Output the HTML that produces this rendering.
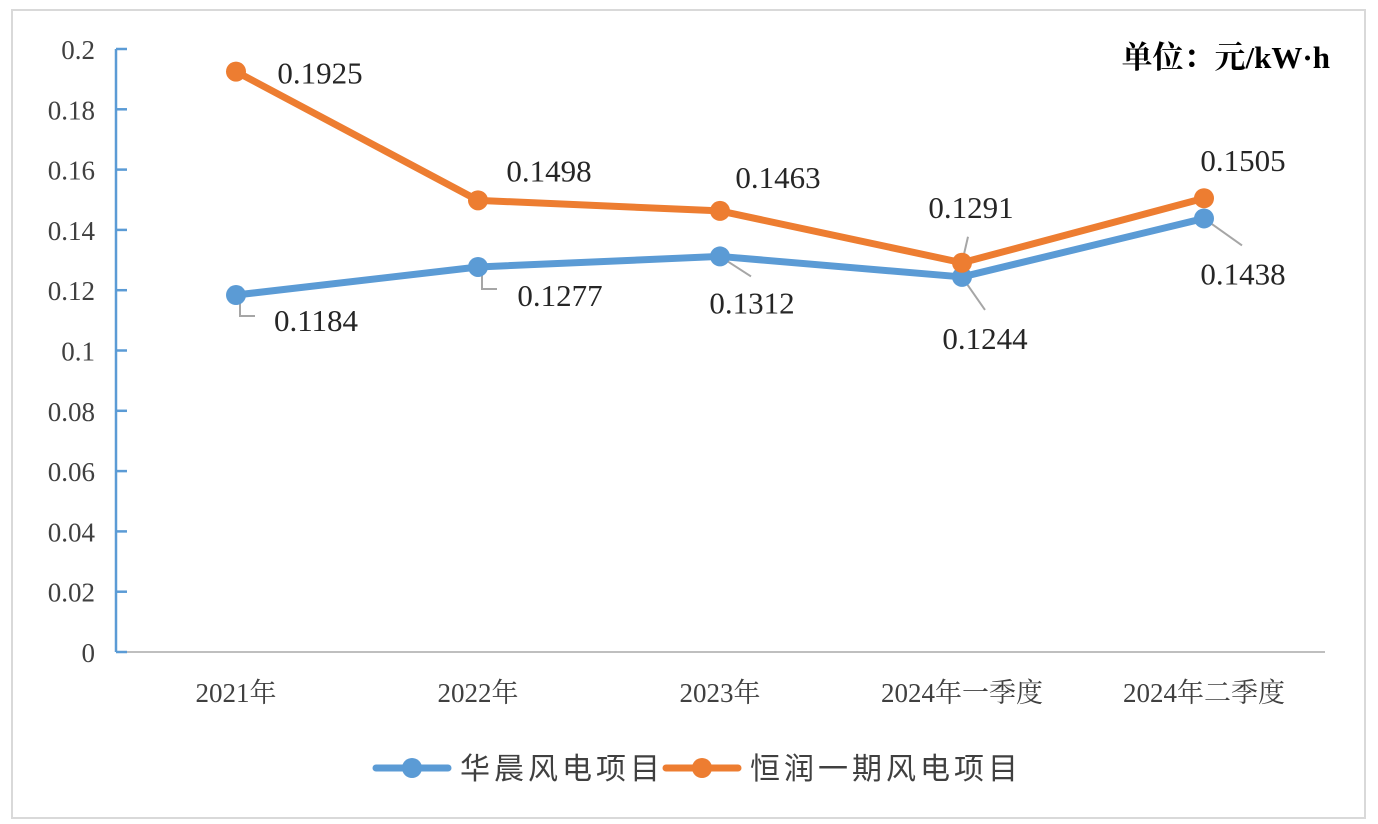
<!DOCTYPE html>
<html><head><meta charset="utf-8"><style>
body{margin:0;background:#fff;}
svg{display:block;font-family:"Liberation Serif","Noto Serif CJK SC",serif;}
</style></head><body>
<svg width="1378" height="824">
<rect x="12" y="10" width="1353" height="808" fill="#fff" stroke="#d9d9d9" stroke-width="2"/>
<text x="1330" y="68" font-size="31" font-weight="bold" text-anchor="end" fill="#000">单位：元/kW·h</text>
<g id="axes"></g><g id="series"></g>
<g>
<g>
<line x1="376" y1="768" x2="448" y2="768" stroke="#5B9BD5" stroke-width="7" stroke-linecap="round"/>
<circle cx="412" cy="768" r="10" fill="#5B9BD5"/>
<text x="460" y="779" font-size="30" fill="#404040" font-family="'Noto Sans CJK SC',sans-serif" letter-spacing="4">华晨风电项目</text></g>
<g>
<line x1="666" y1="768" x2="738" y2="768" stroke="#ED7D31" stroke-width="7" stroke-linecap="round"/>
<circle cx="702" cy="768" r="10" fill="#ED7D31"/>
<text x="750" y="779" font-size="30" fill="#404040" font-family="'Noto Sans CJK SC',sans-serif" letter-spacing="4">恒润一期风电项目</text></g>
</g>
</svg>
<script>
const categories=["2021年","2022年","2023年","2024年一季度","2024年二季度"];
const huachen=[0.1184,0.1277,0.1312,0.1244,0.1438];
const hengrun=[0.1925,0.1498,0.1463,0.1291,0.1505];
const yTicks=[0,0.02,0.04,0.06,0.08,0.1,0.12,0.14,0.16,0.18,0.2];
const yTickLabels=["0","0.02","0.04","0.06","0.08","0.1","0.12","0.14","0.16","0.18","0.2"];
const NS="http://www.w3.org/2000/svg";
const y=v=>652-v/0.2*603;
const x=i=>236+i*242;
function mk(t,a,p){const e=document.createElementNS(NS,t);for(const k in a)e.setAttribute(k,a[k]);p.appendChild(e);return e;}
const axes=document.getElementById('axes');
const ya=mk('line',{x1:116,y1:49,x2:116,y2:652,stroke:'#5B9BD5','stroke-width':2.5},axes);


const xa=mk('line',{x1:116,y1:652,x2:1325,y2:652,stroke:'#bfbfbf','stroke-width':2},axes);


yTicks.forEach((v,i)=>{
 const tk=mk('line',{x1:116,y1:y(v),x2:127,y2:y(v),stroke:'#5B9BD5','stroke-width':2.5},axes);
 
 
 const t=mk('text',{x:95,y:y(v)+10,'font-size':27,'text-anchor':'end',fill:'#404040'},axes);
 t.textContent=yTickLabels[i];
 
 
});
categories.forEach((c,i)=>{
 const t=mk('text',{x:x(i),y:702,'font-size':27,'text-anchor':'middle',fill:'#404040'},axes);
 t.textContent=c;
 
 
});
const ser=document.getElementById('series');
// label offsets (styling): [dx,dy] of label center, leader path offsets
const offB=[[80,25],[82,28],[32,46],[23,61],[39,55]];
const offO=[[84,1],[71,-30],[58,-34],[9,-56],[39,-38]];
const leadB=[[[4,5],[4,21],[19,21]],[[4,5],[4,22],[19,22]],[[0,0],[31,20]],[[0,0],[23,33]],[[0,0],[38,27]]];
const leadO=[null,null,null,[[0,0],[6,-26]],null];
function draw(vals,color,name,off,lead){
 const pts=vals.map((v,i)=>x(i)+','+y(v)).join(' ');
 const pl=mk('polyline',{points:pts,fill:'none',stroke:color,'stroke-width':7,'stroke-linejoin':'round'},ser);
 
 
 vals.forEach((v,i)=>{
  const px=x(i),py=y(v);
  if(lead[i]){const l=mk('polyline',{points:lead[i].map(p=>(px+p[0])+','+(py+p[1])).join(' '),fill:'none',stroke:'#a6a6a6','stroke-width':2},ser);
   
   }
  const c=mk('circle',{cx:px,cy:py,r:10,fill:color},ser);
  
  
  const t=mk('text',{x:px+off[i][0],y:py+off[i][1]+11,'font-size':31,'text-anchor':'middle',fill:'#262626'},ser);
  t.textContent=v.toFixed(4);
  
  
 });
}
draw(huachen,'#5B9BD5','huachen',offB,leadB);
draw(hengrun,'#ED7D31','hengrun',offO,leadO);
</script>
</body></html>
